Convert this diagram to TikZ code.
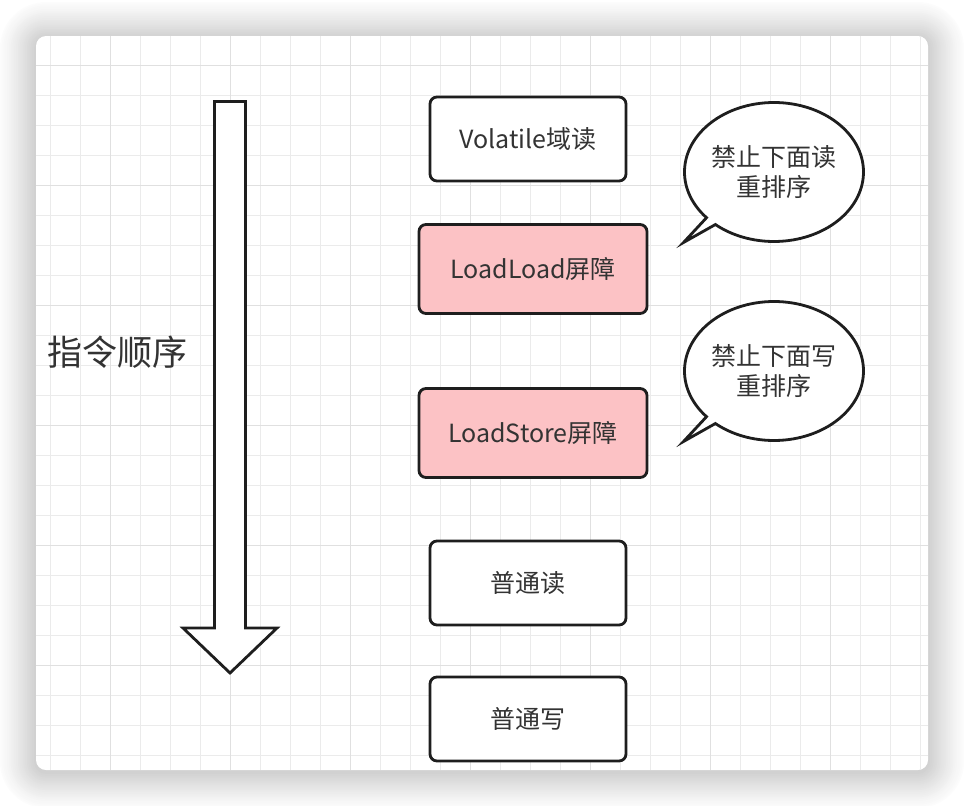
\documentclass[tikz,border=0pt]{standalone}
\usepackage{fontspec}
\setmainfont{Noto Sans CJK SC}
\usepackage {tikz}
\usetikzlibrary {positioning}
\usetikzlibrary{shapes.callouts}
\usetikzlibrary{calc}
\definecolor{inkgray}{HTML}{333333}
\definecolor{strokegray}{HTML}{1E1E1E}
\definecolor{barrierpink}{RGB}{252,194,197}
\definecolor{gridminor}{HTML}{EBEBEB}
\definecolor{gridmajor}{HTML}{E0E0E0}
\newcommand{\boxfont}{\fontsize{25pt}{30pt}\selectfont}
\newcommand{\labelfont}{\fontsize{35pt}{40pt}\selectfont}
\tikzset{
    opbox/.style = {rectangle,draw=strokegray,line width=2.8pt,rounded corners=7pt,fill=white,
        minimum width=196pt,minimum height=84pt,inner sep=0pt,text=inkgray,font=\boxfont},
    barrier/.style = {opbox,fill=barrierpink,minimum width=228pt,minimum height=89pt},
    bubble/.style = {ellipse callout,draw=strokegray,line width=2.8pt,fill=white,
        minimum width=179pt,minimum height=139pt,inner sep=0pt,callout pointer arc=8,
        align=center,text=inkgray,font=\boxfont},
    orderarrow/.style = {draw=strokegray,line width=2.8pt,fill=white},
    ordertext/.style = {text=inkgray,font=\labelfont,inner sep=0pt},
    gridline/.style = {draw=gridminor,line width=1.3pt},
    gridbold/.style = {draw=gridmajor,line width=1.5pt}}

\begin{document}
\begin{tikzpicture}[x=1pt,y=-1pt]
    \useasboundingbox (0,0) rectangle (964,806);
    \foreach \i [evaluate=\i as \shade using {19*(1-1.8*\i/40)^1.2}] in {20,19,...,1}
        \fill[black!\shade,rounded corners=10pt+1.8pt*\i]
            (36-1.8*\i,38-1.8*\i) rectangle (928+1.8*\i,772+1.8*\i);
    \fill[white,rounded corners=10pt] (36,36) rectangle (928,770);
    \begin{scope}
        \clip[rounded corners=10pt] (36,36) rectangle (928,770);
        \foreach \k in {0,...,29}
            \draw[gridline] (50.7+30*\k,36) -- (50.7+30*\k,770);
        \foreach \k in {0,...,23}
            \draw[gridline] (36,65.7+30*\k) -- (928,65.7+30*\k);
        \foreach \k in {0,...,6}
            \draw[gridbold] (110.7+120*\k,36) -- (110.7+120*\k,770);
        \foreach \k in {0,...,5}
            \draw[gridbold] (36,65.7+120*\k) -- (928,65.7+120*\k);
    \end{scope}

    \draw[orderarrow] (214.5,101.5) -- (245.5,101.5) -- (245.5,628) -- (277,628)
        -- (230,673) -- (183,628) -- (214.5,628) -- cycle;
    \node[ordertext] (order) at (117,352) {指令顺序};

    \path (528,139) node[opbox] (vread) {Volatile域读}
    ++ (5,130) node[barrier] (llbar) {LoadLoad屏障}
    ++ (0,164) node[barrier] (lsbar) {LoadStore屏障}
    ++ (-5,150) node[opbox] (nread) {普通读}
    ++ (0,136) node[opbox] (nwrite) {普通写};

    \path (774,172) node[bubble,callout absolute pointer={(683.5,242.5)}] (noread) {禁止下面读\\重排序}
    ++ (0,199) node[bubble,callout absolute pointer={(683.5,441.5)}] (nowrite) {禁止下面写\\重排序};
\end{tikzpicture}
\end{document}
